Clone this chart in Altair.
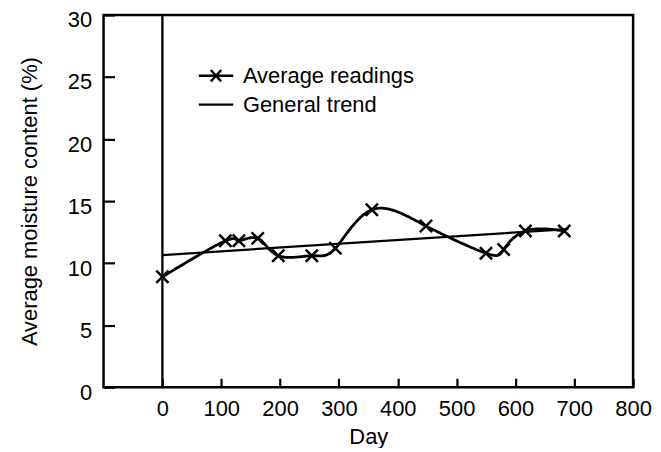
import altair as alt
import pandas as pd

# Data
days = [0, 107, 130, 162, 197, 254, 294, 356, 448, 550, 580, 617, 683]
moisture = [8.9, 11.8, 11.8, 12.0, 10.6, 10.6, 11.2, 14.3, 13.0, 10.8, 11.1, 12.6, 12.6]
trend_days = [0, 690]
trend_values = [10.65, 12.75]
x_ticks = [0, 100, 200, 300, 400, 500, 600, 700, 800]
y_ticks = [0, 5, 10, 15, 20, 25, 30]
series_names = ["Average readings", "General trend"]
zero_line = [0]

df_read = pd.DataFrame({"day": days, "moisture": moisture, "series": series_names[0]})
df_trend = pd.DataFrame({"day": trend_days, "moisture": trend_values, "series": series_names[1]})
df_zero = pd.DataFrame({"day": zero_line})

FONT = "Liberation Sans"
FS = 22

x_scale = alt.Scale(domain=[-100, 800], nice=False, zero=False)
y_scale = alt.Scale(domain=[0, 30], nice=False, zero=False)

x_main = alt.Axis(values=x_ticks, ticks=False, domain=False, grid=False,
                  labelFontSize=FS, labelFont=FONT, labelColor="black", labelPadding=11,
                  labelFlush=False, labelOverlap=False,
                  title="Day", titleFontSize=FS, titleFont=FONT, titleFontWeight="normal",
                  titleColor="black", titlePadding=8, orient="bottom")
y_main = alt.Axis(values=y_ticks, ticks=False, domain=False, grid=False,
                  labelFontSize=FS, labelFont=FONT, labelColor="black", labelPadding=12,
                  labelFlush=False, labelOverlap=False, labelOffset=5,
                  title="Average moisture content (%)", titleFontSize=FS, titleFont=FONT,
                  titleFontWeight="normal", titleColor="black", titlePadding=26, orient="left")

x_ticks_axis = alt.Axis(values=x_ticks, ticks=True, tickSize=9, tickWidth=2.2, tickColor="black",
                        labels=False, domain=False, grid=False, title=None, offset=-9, orient="bottom")
y_ticks_axis = alt.Axis(values=y_ticks, ticks=True, tickSize=11, tickWidth=2.2, tickColor="black",
                        labels=False, domain=False, grid=False, title=None, offset=-11, orient="left")

XPATH = "M-1,-1L1,1M-1,1L1,-1"
LEG_READ = "M-1,0L1,0M-0.3,-0.33L0.3,0.33M-0.3,0.33L0.3,-0.33"

legend_common = dict(
    orient="none", title=None,
    labelFont=FONT, labelFontSize=FS, labelColor="black", labelLimit=400,
    symbolSize=1200, symbolStrokeWidth=2.4, symbolStrokeColor="black",
    labelOffset=8, padding=0,
)

trend = alt.Chart(df_trend).mark_line(strokeWidth=2.3).encode(
    x=alt.X("day:Q", scale=x_scale, axis=x_main),
    y=alt.Y("moisture:Q", scale=y_scale, axis=y_main),
    color=alt.Color("series:N",
                    scale=alt.Scale(domain=[series_names[1]], range=["black"]),
                    legend=alt.Legend(legendX=94, legendY=71, symbolType="stroke", **legend_common)),
)

readings = alt.Chart(df_read).mark_line(interpolate="natural", strokeWidth=2.8, color="black").encode(
    x=alt.X("day:Q", scale=x_scale, axis=x_ticks_axis),
    y=alt.Y("moisture:Q", scale=y_scale, axis=y_ticks_axis),
    strokeDash=alt.StrokeDash("series:N",
                              scale=alt.Scale(domain=[series_names[0]], range=[[1, 0]]),
                              legend=alt.Legend(legendX=94, legendY=42, symbolType=LEG_READ, **legend_common)),
)

points = alt.Chart(df_read).mark_point(shape=XPATH, size=150, strokeWidth=2.5, color="black",
                                       filled=False, opacity=1).encode(
    x=alt.X("day:Q", scale=x_scale, axis=None),
    y=alt.Y("moisture:Q", scale=y_scale, axis=None),
)

zero_rule = alt.Chart(df_zero).mark_rule(color="black", strokeWidth=2.3).encode(
    x=alt.X("day:Q", scale=x_scale, axis=None),
)

chart = alt.layer(trend, readings, zero_rule, points).resolve_axis(
    x="independent", y="independent"
).resolve_legend(color="independent", strokeDash="independent").properties(
    width=532, height=374,
    autosize=alt.AutoSizeParams(type="none"),
    padding={"left": 96, "top": 6, "right": 20, "bottom": 60},
    background="white",
).configure_view(stroke="black", strokeWidth=2.5)

chart.save("out.html", embed_options={"renderer": "svg", "actions": False})
